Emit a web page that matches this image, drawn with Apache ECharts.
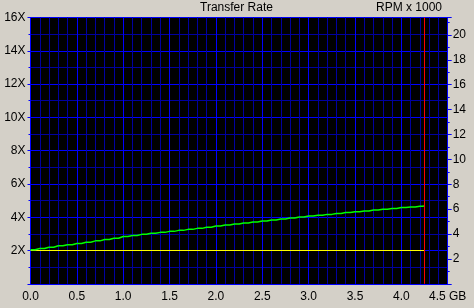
<!DOCTYPE html>
<html><head><meta charset="utf-8">
<script src="https://cdn.jsdelivr.net/npm/echarts@6/dist/echarts.min.js"></script>
<style>html,body{margin:0;padding:0;background:#D4D0C8;}#c{width:474px;height:308px;}</style>
</head><body><div id="c"></div>
<script>
// Disc position (GB)
const positionsGB = [0.0,0.1,0.2,0.3,0.4,0.5,0.6,0.7,0.8,0.9,1.0,1.1,1.2,1.3,1.4,1.5,1.6,1.7,1.8,1.9,2.0,2.1,2.2,2.3,2.4,2.5,2.6,2.7,2.8,2.9,3.0,3.1,3.2,3.3,3.4,3.5,3.6,3.7,3.8,3.9,4.0,4.1,4.2,4.25];
// Transfer rate (X)
const transferRate = [2.04,2.12,2.20,2.28,2.35,2.42,2.50,2.58,2.66,2.74,2.84,2.90,2.97,3.03,3.09,3.15,3.21,3.27,3.33,3.40,3.47,3.53,3.59,3.65,3.71,3.77,3.83,3.89,3.95,4.01,4.07,4.12,4.17,4.22,4.28,4.33,4.38,4.43,4.48,4.53,4.58,4.62,4.66,4.68];
// Yellow reference line (X)
const yellowX = [0.0, 4.25];
const yellowY = [2.0, 2.0];
// End of disc marker (GB)
const discEndGB = 4.25;
// Axis labels
const xTickLabels = ['0.0','0.5','1.0','1.5','2.0','2.5','3.0','3.5','4.0','4.5 GB'];
const title = 'Transfer Rate';
const rightAxisName = 'RPM x 1000';

const FONT = '"Liberation Sans", Arial, sans-serif';
const BLUE = '#0000FF';
const DARK = '#0000A0';

const GL = 30.5, GT = 17.5, GW = 417.18, GH = 266.286;

const chart = echarts.init(document.getElementById('c'), null, {renderer:'canvas'});
chart.setOption({
  backgroundColor: '#D4D0C8',
  animation: false,
  textStyle: {fontFamily: FONT},
  graphic: [
    {type:'rect', shape:{x:30,y:17,width:418,height:267}, style:{fill:'#000000'}, z:-10, silent:true},
    {type:'text', left: 200, top: 2, style:{text: title, font: '12px ' + FONT, fill:'#000'}},
    {type:'text', right: 32, top: 2, style:{text: rightAxisName, font: '12px ' + FONT, fill:'#000'}}
  ],
  grid: {left:GL, top:GT, width:GW, height:GH, containLabel:false},
  xAxis: {
    type:'value', min:0, max:4.5, interval:0.5,
    axisLine:{show:true, lineStyle:{color:BLUE, width:1}},
    axisTick:{show:false},
    axisLabel:{color:'#000', fontSize:12, fontFamily:FONT, margin:7,
      formatter:(v)=>xTickLabels[Math.round(v/0.5)]},
    splitLine:{show:true, lineStyle:{color:BLUE, width:1}},
    minorTick:{show:false, splitNumber:5},
    minorSplitLine:{show:true, lineStyle:{color:DARK, width:1}}
  },
  yAxis: [
    {
      type:'value', min:0, max:16, interval:2, position:'left',
      axisLine:{show:true, lineStyle:{color:BLUE, width:1}},
      axisTick:{show:true, length:3, lineStyle:{color:BLUE}},
      minorTick:{show:true, splitNumber:2, length:2, lineStyle:{color:BLUE}},
      minorSplitLine:{show:true, lineStyle:{color:DARK, width:1}},
      splitLine:{show:true, lineStyle:{color:BLUE, width:1}},
      axisLabel:{color:'#000', fontSize:12, fontFamily:FONT, margin:5,
        formatter:(v)=> v===0 ? '' : v + 'X'}
    },
    {
      type:'value', min:0, max:21.4, interval:2, position:'right',
      axisLine:{show:true, onZero:false, lineStyle:{color:BLUE, width:1}},
      axisTick:{show:true, length:4, lineStyle:{color:BLUE}},
      minorTick:{show:true, splitNumber:2, length:2, lineStyle:{color:BLUE}},
      splitLine:{show:false},
      axisLabel:{color:'#000', fontSize:12, fontFamily:FONT, margin:5, showMaxLabel:false,
        formatter:(v)=> (v===0 || v%2!==0) ? '' : String(v)}
    }
  ],
  series: [
    {
      type:'line', yAxisIndex:0, showSymbol:false,
      data: yellowX.map((x,i)=>[x, yellowY[i]]),
      lineStyle:{color:'#FFFF00', width:1}, z:3,
      markLine:{silent:true, symbol:'none', label:{show:false},
        lineStyle:{color:'#FF0000', width:1, type:'solid'},
        data:[{xAxis: discEndGB}]}
    },
    {
      type:'line', yAxisIndex:0, showSymbol:false, step:'middle',
      data: positionsGB.map((x,i)=>[x, transferRate[i]]),
      lineStyle:{color:'#00FF00', width:1.5}, z:4
    }
  ]
});
</script></body></html>
